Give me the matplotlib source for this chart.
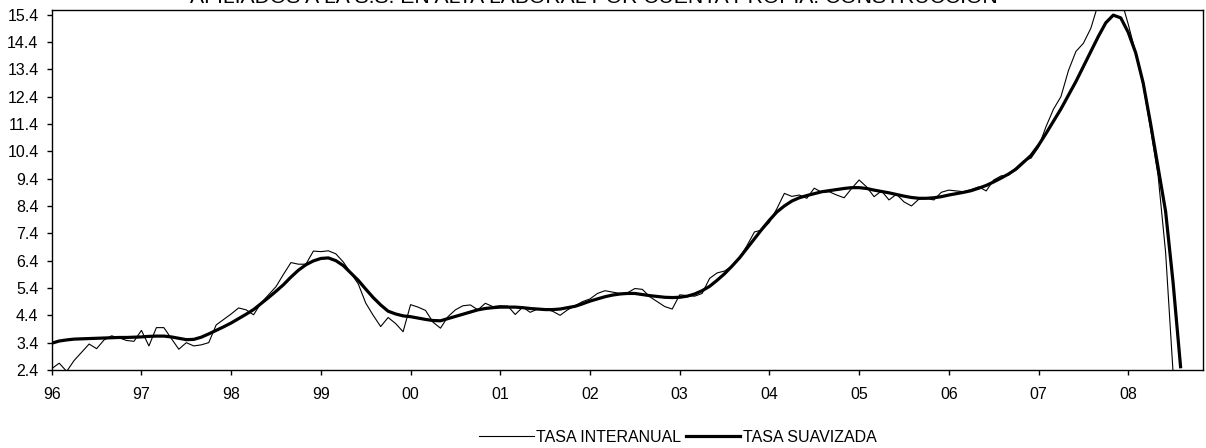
#!/usr/bin/env python3


# +
# import(s)
# -
import numpy as np

import matplotlib as mpl
import matplotlib.pyplot as plt


# +
# initialize
# -
# noinspection PyBroadException
try:
    mpl.use('Agg')
except:
    pass

plt.rcParams['font.family'] = ['Liberation Sans', 'DejaVu Sans']


# +
# data: monthly rates from Jan 1996 (month 0) to Aug 2008 (month 151)
# -
TITLE = "AFILIADOS A LA S.S. EN ALTA LABORAL POR CUENTA PROPIA: CONSTRUCCIÓN"

YEAR_LABELS = ['96', '97', '98', '99', '00', '01', '02', '03', '04', '05', '06', '07', '08']

TASA_INTERANUAL = [
    2.45, 2.65, 2.35, 2.75, 3.05, 3.35, 3.18, 3.50, 3.65, 3.58, 3.48, 3.45,
    3.85, 3.28, 3.95, 3.95, 3.55, 3.16, 3.40, 3.28, 3.32, 3.40, 4.05, 4.25,
    4.45, 4.67, 4.60, 4.42, 4.85, 5.15, 5.45, 5.90, 6.33, 6.27, 6.27, 6.75,
    6.73, 6.76, 6.65, 6.35, 5.95, 5.55, 4.85, 4.40, 3.99, 4.32, 4.10, 3.80,
    4.79, 4.70, 4.58, 4.15, 3.93, 4.35, 4.60, 4.75, 4.78, 4.60, 4.84, 4.72,
    4.75, 4.74, 4.43, 4.70, 4.51, 4.63, 4.63, 4.55, 4.40, 4.60, 4.75, 4.90,
    5.00, 5.20, 5.30, 5.25, 5.20, 5.22, 5.38, 5.35, 5.08, 4.90, 4.72, 4.63,
    5.15, 5.12, 5.10, 5.20, 5.75, 5.95, 6.02, 6.20, 6.50, 6.95, 7.45, 7.52,
    7.80, 8.30, 8.86, 8.75, 8.80, 8.68, 9.05, 8.90, 8.92, 8.80, 8.70, 9.04,
    9.35, 9.10, 8.74, 8.95, 8.62, 8.83, 8.55, 8.40, 8.65, 8.68, 8.62, 8.90,
    8.98, 8.95, 8.92, 9.00, 9.10, 8.95, 9.35, 9.50, 9.53, 9.80, 10.05, 10.15,
    10.55, 11.30, 11.94, 12.40, 13.35, 14.05, 14.35, 14.90, 15.80, 16.20, 16.30, 16.00,
    15.05, 14.00, 12.80, 11.20, 9.50, 6.70, 2.30, -1.50,
]

TASA_SUAVIZADA = [
    3.38, 3.46, 3.50, 3.53, 3.54, 3.55, 3.56, 3.57, 3.58, 3.59, 3.59, 3.60,
    3.61, 3.63, 3.64, 3.64, 3.61, 3.56, 3.51, 3.52, 3.60, 3.72, 3.85, 3.98,
    4.12, 4.28, 4.44, 4.61, 4.83, 5.05, 5.28, 5.52, 5.80, 6.05, 6.25, 6.39,
    6.48, 6.50, 6.40, 6.22, 5.95, 5.68, 5.36, 5.05, 4.78, 4.55, 4.45, 4.38,
    4.35, 4.30, 4.25, 4.21, 4.20, 4.28, 4.36, 4.44, 4.52, 4.60, 4.65, 4.68,
    4.70, 4.70, 4.70, 4.68, 4.65, 4.63, 4.61, 4.61, 4.63, 4.68, 4.73, 4.82,
    4.92, 5.00, 5.08, 5.14, 5.18, 5.20, 5.20, 5.16, 5.12, 5.09, 5.06, 5.05,
    5.06, 5.10, 5.18, 5.30, 5.46, 5.68, 5.92, 6.20, 6.50, 6.85, 7.20, 7.55,
    7.88, 8.18, 8.40, 8.58, 8.70, 8.78, 8.85, 8.92, 8.96, 9.00, 9.04, 9.07,
    9.07, 9.04, 8.98, 8.93, 8.88, 8.82, 8.76, 8.71, 8.68, 8.68, 8.70, 8.74,
    8.80, 8.85, 8.90, 8.96, 9.05, 9.15, 9.28, 9.42, 9.57, 9.75, 10.00, 10.25,
    10.62, 11.05, 11.50, 11.95, 12.45, 12.95, 13.50, 14.05, 14.60, 15.10, 15.38, 15.28,
    14.75, 14.00, 12.90, 11.40, 9.80, 8.20, 5.60, 2.52,
]


# +
# function: plot_afiliados()
# -
def plot_afiliados(_png: str = 'out.png'):

    _months = np.arange(len(TASA_SUAVIZADA))

    fig = plt.figure(figsize=(12.06, 4.48), dpi=100)
    ax = fig.add_axes([0.0429, 0.1741, 0.9546, 0.8025])

    # plot data
    ax.plot(_months, TASA_INTERANUAL, color='black', lw=0.8, solid_joinstyle='round',
            label='TASA INTERANUAL')
    ax.plot(_months, TASA_SUAVIZADA, color='black', lw=2.3, solid_joinstyle='round',
            label='TASA SUAVIZADA')

    # axes
    ax.set_xlim(0, 154)
    ax.set_ylim(2.4, 15.55)
    ax.set_xticks(np.arange(len(YEAR_LABELS)) * 12)
    ax.set_xticklabels(YEAR_LABELS)
    _yt = np.arange(2.4, 15.45, 1.0)
    ax.set_yticks(_yt)
    ax.set_yticklabels([f"{_v:.1f}" for _v in _yt])
    ax.tick_params(axis='both', direction='out', length=3.5, width=1, labelsize=11.5, colors='black')
    ax.tick_params(axis='y', pad=6)
    ax.tick_params(axis='x', pad=9)
    for _s in ax.spines.values():
        _s.set_linewidth(1.0)
        _s.set_color('black')

    # title: only its lower part shows above the plot, as in the source
    fig.text(0.4925, 0.9935, TITLE, ha='center', va='baseline', fontsize=15.2, color='black')

    # legend
    fig.legend(loc='center', bbox_to_anchor=(678 / 1206, 1 - 437 / 448), ncol=2, frameon=False,
               fontsize=11.5, handlelength=3.4, handletextpad=0.15, columnspacing=0.3,
               borderaxespad=0, borderpad=0)

    fig.savefig(_png, dpi=100)


# +
# main()
# -
if __name__ == '__main__':
    plot_afiliados()
